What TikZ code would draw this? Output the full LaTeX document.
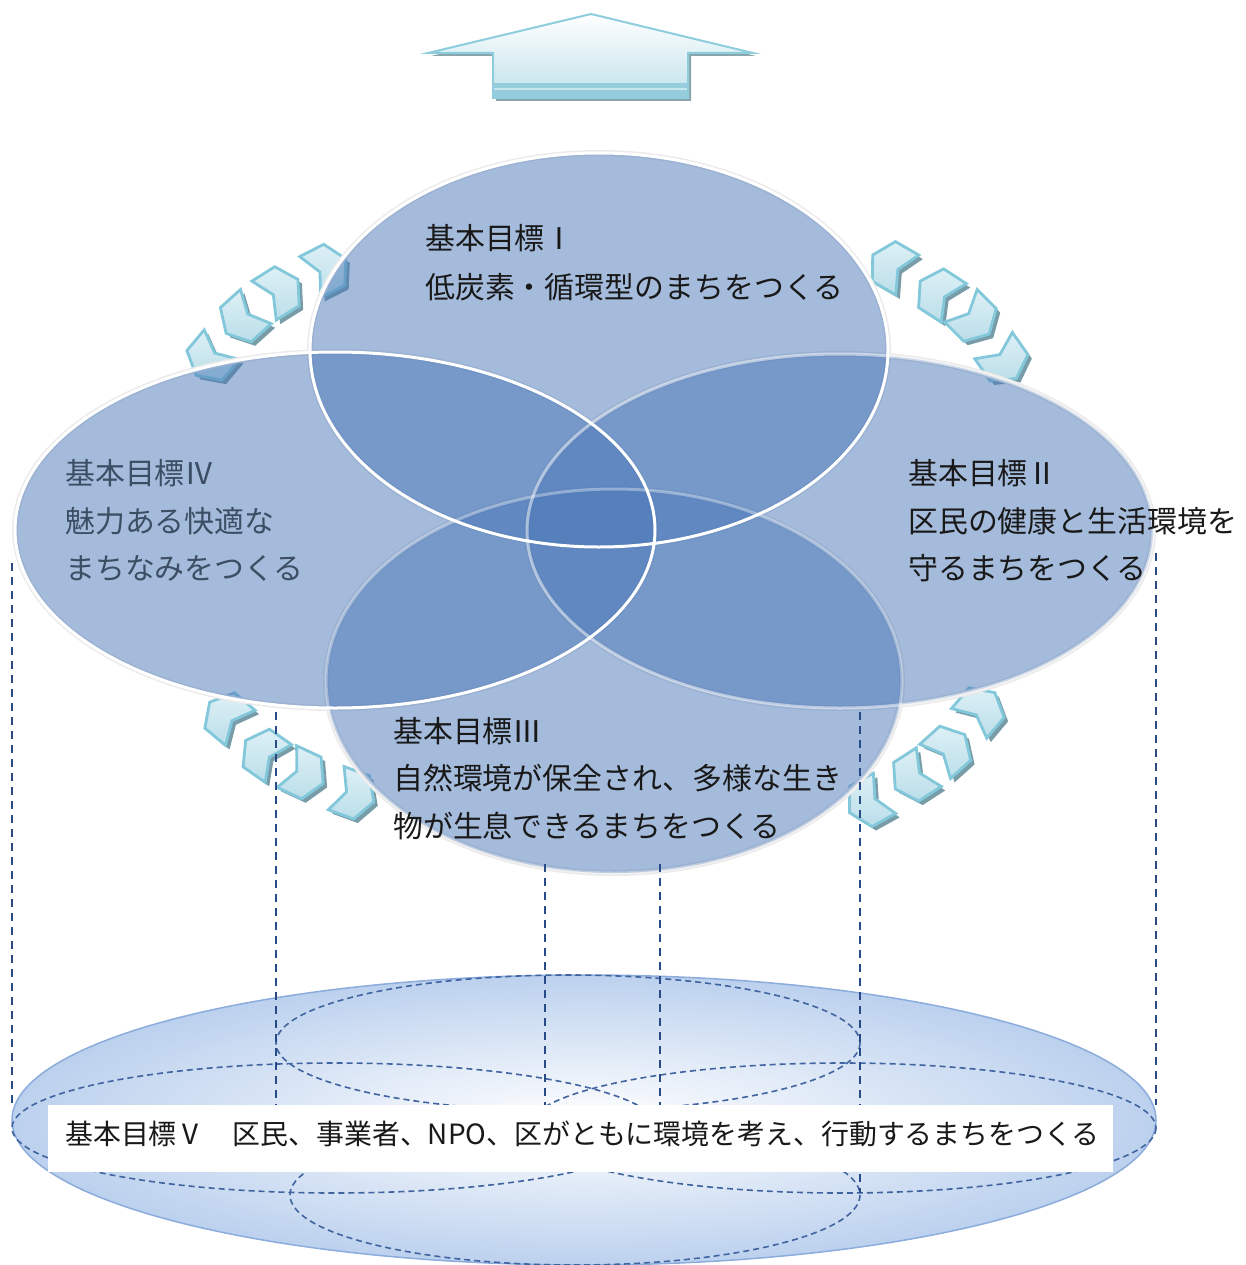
\documentclass[tikz,border=0pt]{standalone}
\usepackage{fontspec}
\newfontfamily\jp{Noto Sans CJK JP}
\definecolor{ellblue}{RGB}{75,120,184}
\definecolor{arrline}{RGB}{142,205,221}
\definecolor{arrlow}{RGB}{192,226,235}
\definecolor{arrband}{RGB}{150,205,220}
\definecolor{arrshadow}{RGB}{139,165,172}
\definecolor{chevline}{RGB}{130,200,218}
\definecolor{chevA}{RGB}{186,222,233}
\definecolor{chevB}{RGB}{222,240,246}
\definecolor{chevshadow}{RGB}{120,156,168}
\definecolor{discblue}{RGB}{188,209,238}
\definecolor{discline}{RGB}{140,172,220}
\definecolor{dashblue}{RGB}{65,100,160}
\definecolor{vline}{RGB}{40,75,135}
\definecolor{txt}{RGB}{25,25,25}
\definecolor{txtgray}{RGB}{60,78,100}
\newcommand\mychev[3]{%
  \pic[rotate=#3] at (#1+4,#2+4) {chevsh};
  \pic[rotate=#3] at (#1,#2) {chev};}
\begin{document}
\begin{tikzpicture}[x=1pt,y=-1pt,
  goalfill/.style={fill=ellblue, fill opacity=0.5},
  goalrim/.style={draw=white, line width=3},
  goalglow/.style={draw=black!8, line width=6},
  lbl/.style={font=\jp\fontsize{29.9}{36}\selectfont, text=txt, anchor=base west, inner sep=0pt},
  lblgray/.style={lbl, text=txtgray},
  vdash/.style={draw=vline, line width=1.9, dash pattern=on 8pt off 6pt},
  pdash/.style={draw=dashblue, line width=1.6, dash pattern=on 6pt off 4pt},
  chevbody/.style={draw=chevline, line width=2.8, top color=chevB, bottom color=chevA},
  chevshade/.style={fill=chevshadow},
  pics/chev/.style={code={\path[chevbody] (-20,-23) -- (7,-23) -- (20,0) -- (7,23) -- (-20,23) -- (-9,0) -- cycle;}},
  pics/chevsh/.style={code={\path[chevshade] (-20,-23) -- (7,-23) -- (20,0) -- (7,23) -- (-20,23) -- (-9,0) -- cycle;}}
]
\useasboundingbox (0,0) rectangle (1246,1265);

% ---------- top arrow ----------
\path[fill=arrshadow] (594,17) -- (756,56) -- (691,56) -- (691,101) -- (496,101) -- (496,56) -- (431,56) -- cycle;
\path[top color=white, bottom color=arrlow, draw=arrline, line width=2]
  (591,14) -- (753,53) -- (688,53) -- (688,98) -- (493,98) -- (493,53) -- (428,53) -- cycle;
\path[fill=arrband] (494,83) rectangle (687,88);
\path[fill=arrband] (494,90) rectangle (687,98);
\draw[arrline, line width=2] (493,53) -- (493,98) -- (688,98) -- (688,53);

% ---------- chevrons ----------
\mychev{209}{360}{230}
\mychev{241}{320}{222}
\mychev{281}{290}{32}
\mychev{328}{268}{27}
\mychev{890}{265}{150}
\mychev{937}{292}{147}
\mychev{975}{320}{-45}
\mychev{1005}{362}{-55}
\mychev{225}{715}{140}
\mychev{262}{752}{145}
\mychev{305}{775}{-25}
\mychev{355}{795}{-20}
\mychev{867}{803}{209}
\mychev{912}{778}{213}
\mychev{950}{748}{42}
\mychev{982}{708}{50}

% ---------- goal ellipses ----------
\coordinate (c1) at (599,350);
\coordinate (c2) at (840,531);
\coordinate (c3) at (614,681);
\coordinate (c4) at (335,530);
\path[goalglow] (c1) ellipse [x radius=289, y radius=197];
\path[goalglow] (c2) ellipse [x radius=313, y radius=177];
\path[goalglow] (c3) ellipse [x radius=288, y radius=192];
\path[goalglow] (c4) ellipse [x radius=320, y radius=178];
\path[goalfill] (c3) ellipse [x radius=288, y radius=192];
\path[goalfill] (c2) ellipse [x radius=313, y radius=177];
\path[goalfill] (c1) ellipse [x radius=289, y radius=197];
\path[goalfill] (c4) ellipse [x radius=320, y radius=178];
\path[goalrim, draw opacity=0.35] (c3) ellipse [x radius=288, y radius=192];
\path[goalrim, draw opacity=0.5] (c2) ellipse [x radius=313, y radius=177];
\path[goalrim] (c1) ellipse [x radius=289, y radius=197];
\path[goalrim] (c4) ellipse [x radius=320, y radius=178];

% ---------- goal texts ----------
\node[lbl] (g1a) at (425,249) {基本目標Ⅰ};
\node[lbl] (g1b) at (425,298) {低炭素・循環型のまちをつくる};
\node[lblgray] (g4a) at (65,484) {基本目標Ⅳ};
\node[lblgray] (g4b) at (65,532) {魅力ある快適な};
\node[lblgray] (g4c) at (65,579) {まちなみをつくる};
\node[lbl] (g2a) at (908,484) {基本目標Ⅱ};
\node[lbl] (g2b) at (908,532) {区民の健康と生活環境を};
\node[lbl] (g2c) at (908,579) {守るまちをつくる};
\node[lbl] (g3a) at (393,742) {基本目標Ⅲ};
\node[lbl] (g3b) at (393,789) {自然環境が保全され、多様な生き};
\node[lbl] (g3c) at (393,837) {物が生息できるまちをつくる};

% ---------- base disc ----------
\path[shading=radial, inner color=white, outer color=discblue, draw=discline, line width=1.5]
  (584,1120) ellipse [x radius=572, y radius=145];
\path[pdash] (568,1043) ellipse [x radius=292, y radius=68];
\path[pdash] (335,1128) ellipse [x radius=323, y radius=65];
\path[pdash] (842,1128) ellipse [x radius=314, y radius=65];
\path[pdash] (575,1195) ellipse [x radius=285, y radius=70];

% ---------- vertical dashed lines ----------
\draw[vdash] (12,563) -- (12,1105);
\draw[vdash] (1156,553) -- (1156,1105);
\draw[vdash] (276,712) -- (276,1105);
\draw[vdash] (545,864) -- (545,1105);
\draw[vdash] (660,864) -- (660,1105);
\draw[vdash] (860,712) -- (860,1193);

% ---------- goal V ----------
\node[fill=white, minimum width=1065pt, minimum height=67pt, anchor=north west, inner sep=0pt] (g5box) at (48,1105) {};
\node[lbl, font=\jp\fontsize{27.9}{34}\selectfont] (g5) at (65,1144) {基本目標Ⅴ　区民、事業者、NPO、区がともに環境を考え、行動するまちをつくる};
\end{tikzpicture}
\end{document}
